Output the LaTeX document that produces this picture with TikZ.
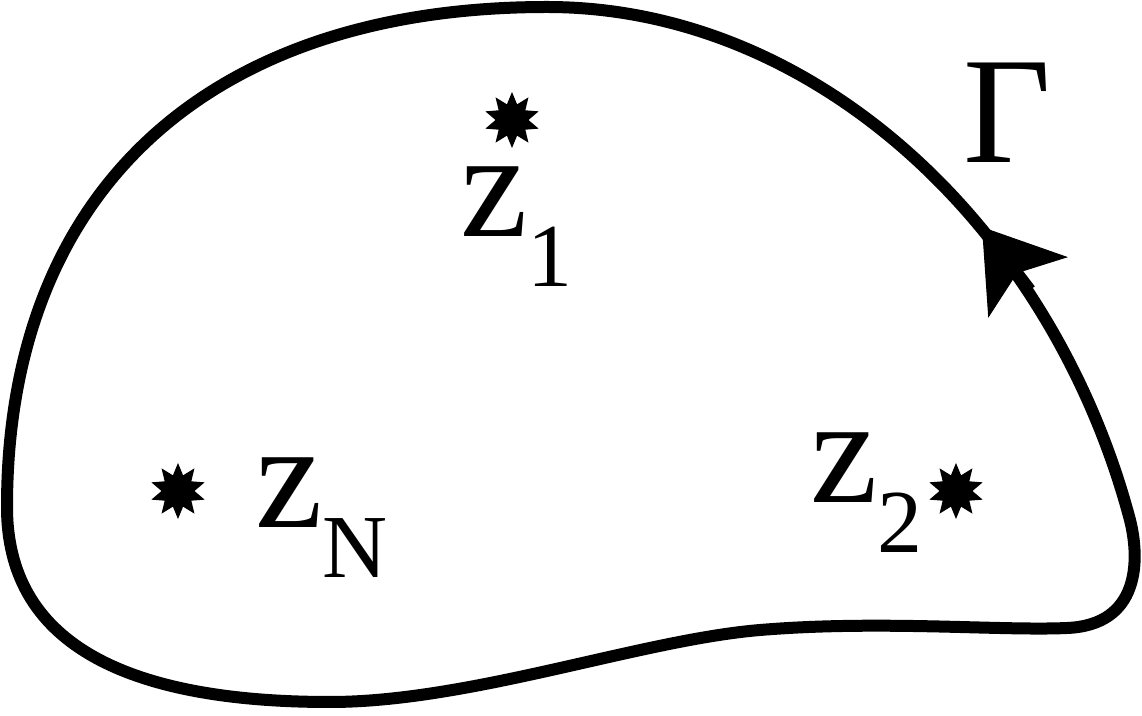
\documentclass[tikz,border=0pt]{standalone}
\usepackage{fontspec}
\setmainfont{Liberation Serif}
\usetikzlibrary{shapes.geometric,arrows.meta,positioning}

\tikzset{
  pole/.style={star, star points=10, star point ratio=1.7, fill=black, draw=none, inner sep=0pt, minimum size=28pt},
  polelabel/.style={anchor=base west, inner sep=0pt, font=\fontsize{76}{76}\selectfont},
  contour/.style={line width=6pt, line join=round},
  flow/.style={contour, -{Stealth[length=38pt,width=50pt,inset=9pt,line width=0.5pt]}},
}
\newcommand{\zsub}[1]{z\raisebox{-25pt}{\fontsize{45}{45}\selectfont #1}}

\begin{document}
\begin{tikzpicture}[x=0.5pt, y=-0.5pt]
\useasboundingbox (0,0) rectangle (1142,716);

% Contour Gamma
\coordinate (r) at (1130,520);
\coordinate (t) at (547,7);
\coordinate (l) at (7,507);
\coordinate (b) at (330,702);
\coordinate (w) at (760,630);
\coordinate (c) at (1067,628);
\draw[contour]
  (r) .. controls (1053,230) and (817,7) .. (t)
      .. controls (207,7) and (7,192) .. (l)
      .. controls (7,640) and (120,702) .. (b)
      .. controls (470,702) and (640,640) .. (w)
      .. controls (880,620) and (1000,631) .. (c)
      .. controls (1140,625) and (1140,560) .. cycle;

% Direction
\coordinate (ab) at (1030,290);
\coordinate (at) at (982,227);
\draw[flow] (ab) -- (at);

% Poles
\node[pole] (s1) at (512,120) {};
\node[pole] (s2) at (956,491) {};
\node[pole] (sN) at (178,491) {};

% Labels
\node[polelabel] (z1) at (460,237) {\zsub{1}};
\node[polelabel] (z2) at (810,503) {\zsub{2}};
\node[polelabel] (zN) at (255,528) {\zsub{N}};
\node[polelabel] (gamma) at (963,163) {Γ};

\end{tikzpicture}
\end{document}
